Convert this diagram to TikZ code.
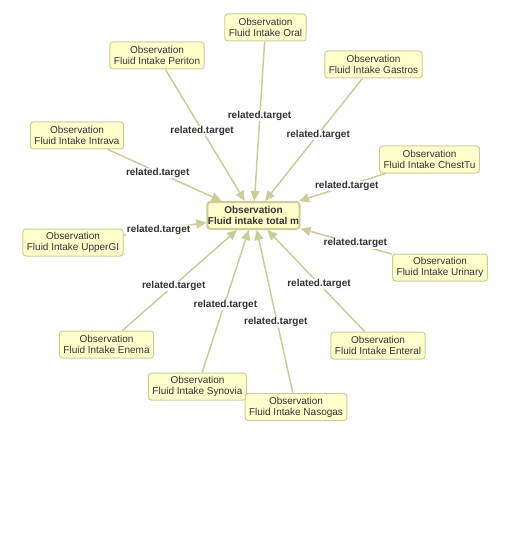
\documentclass[tikz,border=0pt]{standalone}
\usepackage{fontspec}
\setmainfont{Liberation Sans}
\usepackage{tikz}
\usetikzlibrary{arrows.meta}
\definecolor{obsfill}{HTML}{FFFFCC}
\definecolor{obsline}{HTML}{CCCC99}
\definecolor{obstext}{HTML}{333333}

\begin{document}
\begin{tikzpicture}[x=1pt, y=-1pt,
    obs/.style={rectangle, rounded corners=3pt, draw=obsline, fill=obsfill, line width=1pt, text=obstext, font=\fontsize{10}{11}\selectfont, align=center, inner xsep=4pt, inner ysep=2pt, minimum height=27pt},
    focus/.style={obs, line width=2pt, inner xsep=0.5pt, font=\fontsize{10}{11}\selectfont\bfseries},
    rel/.style={-{Triangle[length=10pt,width=9pt]}, line width=1.5pt, draw=obsline},
    lbl/.style={font=\fontsize{10}{11}\selectfont\bfseries, text=obstext, fill=white, inner sep=0.5pt}]
        \useasboundingbox (0,0) rectangle (521,548);
        \node[focus] (total) at (253.5,215.5) {Observation\\Fluid intake total m};
        \node[obs] (oral) at (265.5,27.5) {Observation\\Fluid Intake Oral};
        \node[obs] (periton) at (157,55.5) {Observation\\Fluid Intake Periton};
        \node[obs] (gastros) at (373.5,64.5) {Observation\\Fluid Intake Gastros};
        \node[obs] (intrava) at (77,135.5) {Observation\\Fluid Intake Intrava};
        \node[obs] (chesttu) at (429.5,159.5) {Observation\\Fluid Intake ChestTu};
        \node[obs] (uppergi) at (73,242.5) {Observation\\Fluid Intake UpperGI};
        \node[obs] (urinary) at (440,267.5) {Observation\\Fluid Intake Urinary};
        \node[obs] (enema) at (106.5,344.5) {Observation\\Fluid Intake Enema};
        \node[obs] (enteral) at (378,345.5) {Observation\\Fluid Intake Enteral};
        \node[obs] (synovia) at (197.5,386.5) {Observation\\Fluid Intake Synovia};
        \node[obs] (nasogas) at (296,407) {Observation\\Fluid Intake Nasogas};
        % every observation points at the total
        \foreach \src/\dx/\dy in {oral/0/-5, periton/-3/-4.5, gastros/4.5/-5, intrava/-7/-2.5, chesttu/4.5/-1.5, uppergi/-6.5/1.5, urinary/9/2, enema/-6/6, enteral/3/3.5, synovia/0/4, nasogas/1/10}
            \draw[rel] (\src) -- node[lbl, shift={(\dx,\dy)}] {related.target} (total);
    \end{tikzpicture}
\end{document}
